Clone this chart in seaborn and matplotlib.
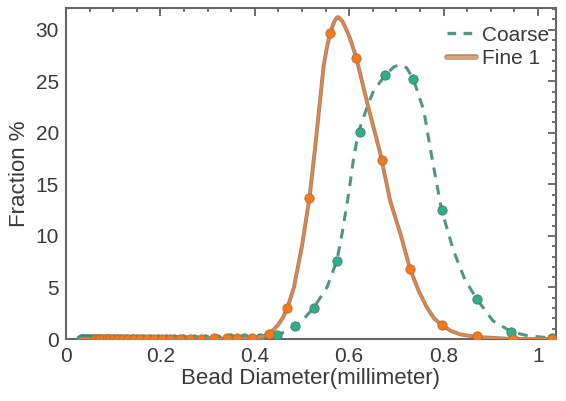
import numpy as np
import pandas as pd
import matplotlib
matplotlib.use("Agg")
import matplotlib.pyplot as plt
import matplotlib.patheffects as pe
from matplotlib.ticker import MultipleLocator
from matplotlib.lines import Line2D
import seaborn as sns

# sampled points (markers)
fine_x = [0.062, 0.067, 0.073, 0.079, 0.086, 0.094, 0.102, 0.111, 0.121, 0.132, 0.144,
          0.157, 0.171, 0.186, 0.203, 0.221, 0.241, 0.263, 0.287, 0.313, 0.341, 0.362,
          0.394, 0.430, 0.469, 0.516, 0.560, 0.615, 0.669, 0.729, 0.796, 0.870, 0.947, 1.030]
fine_y = [0.0, 0.0, 0.0, 0.0, 0.0, 0.0, 0.0, 0.0, 0.0, 0.0, 0.0,
          0.0, 0.0, 0.0, 0.0, 0.0, 0.0, 0.0, 0.0, 0.05, 0.05, 0.1,
          0.1, 0.5, 3.0, 13.7, 29.7, 27.3, 17.4, 6.8, 1.36, 0.3, 0.0, 0.0]

coarse_x = [0.031, 0.033, 0.036, 0.040, 0.043, 0.047, 0.051, 0.055, 0.060, 0.065, 0.071,
            0.077, 0.084, 0.091, 0.099, 0.108, 0.117, 0.128, 0.139, 0.151, 0.164, 0.178,
            0.194, 0.211, 0.229, 0.249, 0.271, 0.294, 0.320, 0.348, 0.378, 0.411, 0.447,
            0.486, 0.525, 0.574, 0.622, 0.677, 0.736, 0.796, 0.870, 0.944, 1.030]
coarse_y = [0.0, 0.0, 0.0, 0.0, 0.0, 0.0, 0.0, 0.0, 0.0, 0.0, 0.0,
            0.0, 0.0, 0.0, 0.0, 0.0, 0.0, 0.0, 0.0, 0.0, 0.0, 0.0,
            0.0, 0.0, 0.0, 0.0, 0.0, 0.0, 0.0, 0.05, 0.05, 0.1, 0.4,
            1.27, 3.05, 7.6, 20.1, 25.6, 25.2, 12.5, 3.9, 0.7, 0.1]

# smooth curves
fine_curve_x = [0.03, 0.35, 0.40, 0.42, 0.43, 0.44, 0.45, 0.46, 0.469, 0.483, 0.50, 0.516,
                0.529, 0.546, 0.553, 0.560, 0.566, 0.571, 0.575, 0.578, 0.582, 0.586,
                0.590, 0.596, 0.603, 0.615, 0.640, 0.666, 0.687, 0.710, 0.729, 0.748,
                0.765, 0.780, 0.796, 0.815, 0.835, 0.870, 0.947, 1.03]
fine_curve_y = [0.0, 0.0, 0.1, 0.3, 0.5, 0.9, 1.4, 2.1, 3.0, 5.0, 9.0, 13.7,
                19.0, 26.5, 28.3, 29.7, 30.5, 31.0, 31.2, 31.2, 31.0, 30.8,
                30.4, 29.8, 29.0, 27.3, 22.6, 18.0, 13.4, 10.0, 6.8, 4.6,
                3.05, 2.0, 1.36, 0.8, 0.45, 0.2, 0.0, 0.0]

coarse_curve_x = [0.03, 0.38, 0.42, 0.447, 0.47, 0.486, 0.505, 0.525, 0.553, 0.574,
                  0.585, 0.599, 0.610, 0.620, 0.638, 0.652, 0.677, 0.695, 0.708, 0.722,
                  0.736, 0.758, 0.775, 0.796, 0.821, 0.845, 0.870, 0.905, 0.944, 0.98, 1.03]
coarse_curve_y = [0.0, 0.0, 0.1, 0.4, 0.8, 1.27, 2.0, 3.05, 5.0, 7.6,
                  10.2, 14.1, 17.7, 20.1, 22.5, 24.1, 25.6, 26.4, 26.6, 26.3,
                  25.2, 22.2, 17.7, 12.5, 8.6, 5.8, 3.9, 1.75, 0.7, 0.3, 0.1]

sns.set_style("white")
plt.rcParams["font.family"] = ["Liberation Sans", "DejaVu Sans"]
text_col = "#3a3a3a"

fig = plt.figure(figsize=(5.66, 4.01), dpi=100)
ax = fig.add_axes([0.1166, 0.1546, 0.8654, 0.8254])

teal_line = "#4f9684"
teal_mark = "#2cb08a"
orange_line = "#e8843e"
orange_mark = "#f5781e"
edge = [pe.Stroke(linewidth=2.8, foreground="#9a8478"), pe.Normal()]
leg_edge = [pe.Stroke(linewidth=4.0, foreground="#a89080"), pe.Normal()]

sns.lineplot(x=coarse_curve_x, y=coarse_curve_y, ax=ax, color=teal_line, lw=2.2,
             linestyle=(0, (3.2, 2.6)), sort=False, estimator=None)
sns.scatterplot(x=coarse_x, y=coarse_y, ax=ax, color=teal_mark, s=45,
                edgecolor="#4a7a6a", linewidth=0.6, zorder=3)
sns.lineplot(x=fine_curve_x, y=fine_curve_y, ax=ax, color=orange_line, lw=1.6,
             sort=False, estimator=None, path_effects=edge, zorder=4)
sns.scatterplot(x=fine_x, y=fine_y, ax=ax, color=orange_mark, s=45,
                edgecolor="#b86a30", linewidth=0.6, zorder=5)

ax.set_xlim(0, 1.038)
ax.set_ylim(0, 32.1)
ax.xaxis.set_minor_locator(MultipleLocator(0.05))
ax.yaxis.set_major_locator(MultipleLocator(5))
ax.yaxis.set_minor_locator(MultipleLocator(1))
ax.set_xticks([0, 0.2, 0.4, 0.6, 0.8, 1.0])
ax.set_xticklabels(["0", "0.2", "0.4", "0.6", "0.8", "1"])
ax.tick_params(which="both", direction="in", top=True, right=True,
               colors="#555555", labelcolor=text_col, labelsize=15, width=1.2)
ax.tick_params(which="major", length=6)
ax.tick_params(axis="x", which="major", pad=6)
ax.tick_params(axis="y", which="major", pad=5)
ax.tick_params(which="minor", length=3)
for s in ax.spines.values():
    s.set_color("#666666")
    s.set_linewidth(1.5)

ax.set_xlabel("Bead Diameter(millimeter)", fontsize=16, color=text_col, labelpad=1)
ax.set_ylabel("Fraction %", fontsize=16, color=text_col, labelpad=4)

handles = [Line2D([], [], color=teal_line, lw=2.4, linestyle=(0, (2.6, 2.2))),
           Line2D([], [], color="#e0a27a", lw=2.2, path_effects=leg_edge)]
ax.legend(handles, ["Coarse", "Fine 1"], loc="upper right", frameon=False,
          bbox_to_anchor=(1.022, 1.0),
          fontsize=15, handlelength=1.35, handletextpad=0.3, labelspacing=0.2,
          labelcolor=text_col, borderaxespad=0.1, borderpad=0.75)

fig.savefig("out.png", dpi=100)
